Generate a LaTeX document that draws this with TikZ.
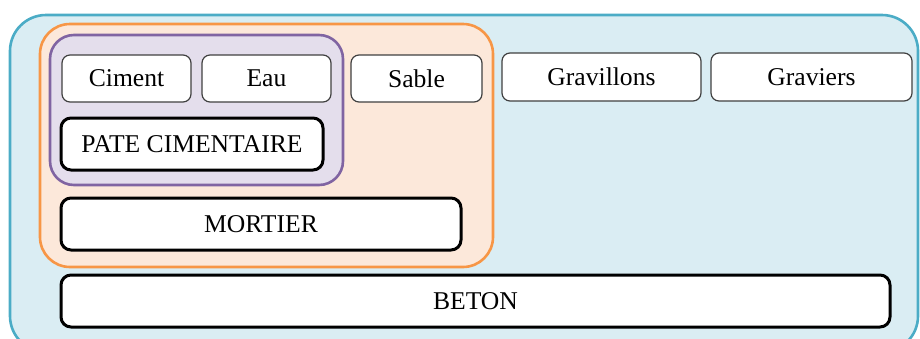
\documentclass[tikz,border=0pt]{standalone}
\usepackage{fontspec}
\setmainfont{Liberation Serif}
\usetikzlibrary{positioning, fit, backgrounds}
\definecolor{betonblue}{RGB}{75, 172, 198}
\definecolor{betonfill}{RGB}{218, 237, 243}
\definecolor{mortierorange}{RGB}{247, 150, 70}
\definecolor{mortierfill}{RGB}{252, 232, 218}
\definecolor{patepurple}{RGB}{128, 100, 162}
\definecolor{patefill}{RGB}{228, 222, 236}

\begin{document}
\begin{tikzpicture}[
    x=0.5pt, y=-0.5pt,
    font=\fontsize{12.8}{15}\selectfont,
    item/.style={rectangle, draw=black!75, line width=0.6pt, rounded corners=4pt, fill=white, minimum width=64.5pt, minimum height=23.5pt, align=center, inner sep=0pt, outer sep=0pt},
    mix/.style={rectangle, draw=black, line width=1.5pt, rounded corners=5pt, fill=white, minimum height=26pt, align=center, inner sep=0pt, outer sep=0pt},
    group/.style={rectangle, line width=1.3pt, inner sep=0pt}
]
    \clip (0,0) rectangle (920,338);

    % Constituants
    \node[item] (ciment) at (126.5,78.5) {Ciment};
    \node[item, right=5.5pt of ciment] (eau) {Eau};
    \node[item, right=10pt of eau, minimum width=65.5pt] (sable) {Sable};
    \node[item, right=10pt of sable, minimum width=99.5pt, minimum height=24pt, yshift=0.75pt] (gravillons) {Gravillons};
    \node[item, right=5pt of gravillons, minimum width=100.5pt, minimum height=24pt] (graviers) {Graviers};

    % Melanges
    \node[mix, below=8pt of ciment.south west, anchor=north west, xshift=-0.5pt, minimum width=131pt] (pate) {PATE CIMENTAIRE};
    \node[mix, below=14pt of pate.south west, anchor=north west, minimum width=200pt] (mortier) {MORTIER};
    \node[mix, below=12.5pt of mortier.south west, anchor=north west, minimum width=414.5pt] (beton) {BETON};

    % Groupes
    \begin{scope}[on background layer]
        \node[group, draw=betonblue, fill=betonfill, rounded corners=18pt, fit={(10,15) (918,352)}] (zonebeton) {};
        \node[group, draw=mortierorange, fill=mortierfill, rounded corners=15pt, fit={(40,24) (493,267)}] (zonemortier) {};
        \node[group, draw=patepurple, fill=patefill, rounded corners=12pt, fit={(50,35) (343,185)}] (zonepate) {};
    \end{scope}
\end{tikzpicture}
\end{document}
